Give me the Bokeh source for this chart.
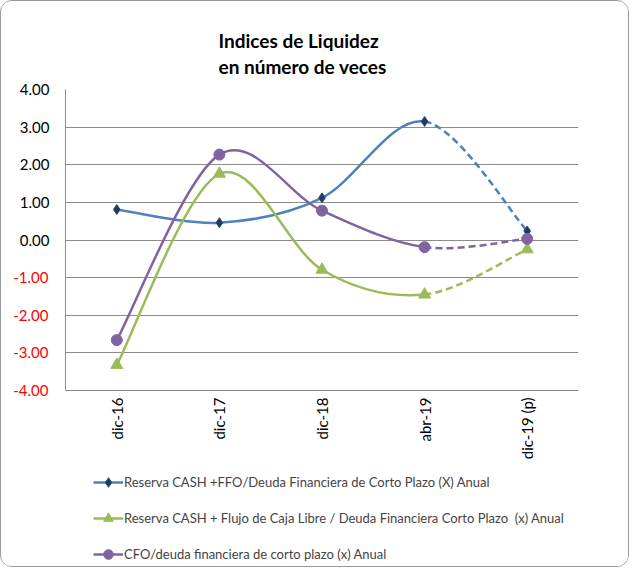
import math
from bokeh.plotting import figure
from bokeh.layouts import column
from bokeh.models import (ColumnDataSource, Range1d, FixedTicker, Legend, LegendItem,
                          LinearAxis, Title)
from bokeh.embed import file_html
from bokeh.resources import INLINE

# ---------------- data ----------------
categories = ["dic-16", "dic-17", "dic-18", "abr-19", "dic-19 (p)"]
serie_ffo = [0.81, 0.46, 1.12, 3.15, 0.24]
serie_fcl = [-3.32, 1.76, -0.79, -1.45, -0.25]
serie_cfo = [-2.66, 2.27, 0.78, -0.19, 0.03]
names = [
    "Reserva CASH +FFO/Deuda Financiera de Corto Plazo (X) Anual",
    "Reserva CASH + Flujo de Caja Libre / Deuda Financiera Corto Plazo  (x) Anual",
    "CFO/deuda financiera de corto plazo (x) Anual",
]
y_ticks = [-4, -3, -2, -1, 0, 1, 2, 3, 4]
y_tick_labels = ["-4.00", "-3.00", "-2.00", "-1.00", "0.00", "1.00", "2.00", "3.00", "4.00"]
title_text = "Indices de Liquidez\nen número de veces"

FONT = "Lato"
xs = list(range(len(categories)))

p = figure(frame_width=513, frame_height=301, min_border_left=64, min_border_right=50,
           min_border_top=88, min_border_bottom=80,
           x_range=Range1d(-0.5, len(categories) - 0.5), y_range=Range1d(-4, 4),
           output_backend="svg", toolbar_location=None, title=None)
p.outline_line_color = None
p.background_fill_color = "white"
p.border_fill_color = "white"

# grid
p.xgrid.visible = False
p.ygrid.ticker = FixedTicker(ticks=y_ticks)
p.ygrid.grid_line_color = "#8c8c8c"
p.ygrid.grid_line_width = 1

# x axis
p.xaxis.ticker = FixedTicker(ticks=xs)
p.xaxis.major_label_overrides = {i: c for i, c in enumerate(categories)}
p.xaxis.major_label_orientation = math.pi / 2
p.xaxis.major_tick_line_color = None
p.xaxis.major_tick_out = 0
p.xaxis.major_tick_in = 0
p.xaxis.minor_tick_line_color = None
p.xaxis.axis_line_color = "#8c8c8c"
p.xaxis.major_label_text_font = FONT
p.xaxis.major_label_text_font_size = "15px"
p.xaxis.major_label_text_color = "black"
p.xaxis.major_label_standoff = 7

# y axis (non-negative labels in black)
pos = [(t, l) for t, l in zip(y_ticks, y_tick_labels) if t >= 0]
neg = [(t, l) for t, l in zip(y_ticks, y_tick_labels) if t < 0]
p.yaxis.ticker = FixedTicker(ticks=[t for t, _ in pos])
p.yaxis.major_label_overrides = {t: l for t, l in pos}
p.yaxis.major_tick_line_color = None
p.yaxis.major_tick_out = 0
p.yaxis.major_tick_in = 0
p.yaxis.minor_tick_line_color = None
p.yaxis.axis_line_color = "#8c8c8c"
p.yaxis.major_label_text_font = FONT
p.yaxis.major_label_text_font_size = "15px"
p.yaxis.major_label_text_color = "black"
p.yaxis.major_label_standoff = 16

# negative labels in red (second axis folded back onto the first)
red_axis = LinearAxis(ticker=FixedTicker(ticks=[t for t, _ in neg]),
                      major_label_overrides={t: l for t, l in neg},
                      axis_line_color=None, major_tick_line_color=None,
                      minor_tick_line_color=None, major_tick_out=0, major_tick_in=0,
                      major_label_text_font=FONT, major_label_text_font_size="15px",
                      major_label_text_color="red", major_label_standoff=-32)
p.add_layout(red_axis, "left")


def smooth_segments(ys):
    n = len(ys)
    seg = dict(x0=[], y0=[], x1=[], y1=[], cx0=[], cy0=[], cx1=[], cy1=[])
    for i in range(n - 1):
        xm = xs[max(i - 1, 0)]; ym = ys[max(i - 1, 0)]
        xp = xs[min(i + 2, n - 1)]; yp = ys[min(i + 2, n - 1)]
        seg["x0"].append(xs[i]); seg["y0"].append(ys[i])
        seg["x1"].append(xs[i + 1]); seg["y1"].append(ys[i + 1])
        seg["cx0"].append(xs[i] + (xs[i + 1] - xm) / 6)
        seg["cy0"].append(ys[i] + (ys[i + 1] - ym) / 6)
        seg["cx1"].append(xs[i + 1] - (xp - xs[i]) / 6)
        seg["cy1"].append(ys[i + 1] - (yp - ys[i]) / 6)
    solid = {k: v[:-1] for k, v in seg.items()}
    dashed = {k: v[-1:] for k, v in seg.items()}
    return solid, dashed


series = [
    (serie_ffo, "#4F81BD", "diamond", "#1F3864", "#2A4C7A", 10),
    (serie_fcl, "#9BBB59", "triangle", "#9BBB59", "#9BBB59", 12),
    (serie_cfo, "#8064A2", "circle", "#8064A2", "#8064A2", 11),
]

# legend lives in a second, axis-less figure directly under the chart
p2 = figure(width=627, height=96, min_border_left=64, min_border_top=0,
            min_border_right=50, min_border_bottom=0,
            x_range=Range1d(0, 1), y_range=Range1d(0, 1),
            x_axis_location=None, y_axis_location=None,
            output_backend="svg", toolbar_location=None, title=None)
p2.grid.visible = False
p2.outline_line_color = None
p2.border_fill_color = "white"
p2.background_fill_color = "white"

items = []
for (ys, color, marker, fill, mline, size), name in zip(series, names):
    solid, dashed = smooth_segments(ys)
    p.bezier(x0="x0", y0="y0", x1="x1", y1="y1", cx0="cx0", cy0="cy0", cx1="cx1", cy1="cy1",
             source=ColumnDataSource(solid), line_color=color, line_width=2.5)
    p.bezier(x0="x0", y0="y0", x1="x1", y1="y1", cx0="cx0", cy0="cy0", cx1="cx1", cy1="cy1",
             source=ColumnDataSource(dashed), line_color=color, line_width=2.5, line_dash="7 4")
    p.scatter(x=xs, y=ys, marker=marker, size=size, fill_color=fill, line_color=mline,
              line_width=1)
    # proxy renderers (off-range) that only feed the legend swatches
    lr = p2.line(x=[-10, -9], y=[-10, -10], line_color=color, line_width=2.5)
    sr = p2.scatter(x=[-10], y=[-10], marker=marker, size=size, fill_color=fill,
                    line_color=mline, line_width=1)
    items.append(LegendItem(label=name, renderers=[lr, sr]))

legend = Legend(items=items, location=(28, 0), orientation="vertical",
                glyph_width=30, glyph_height=24, label_height=24, spacing=12,
                padding=0, margin=0, border_line_color=None, background_fill_alpha=0,
                label_text_font=FONT, label_text_font_size="13px", label_standoff=1,
                label_text_baseline="middle")
p2.add_layout(legend, "center")

# title
p.add_layout(Title(text=title_text, align="left", offset=153, standoff=22,
                   text_font=FONT, text_font_style="bold", text_font_size="19px",
                   text_line_height=1.15, text_color="black"), "above")

layout = column(p, p2, styles={"border": "1px solid #9a9a9a", "border-radius": "12px",
                               "overflow": "hidden"})
open("out.html", "w").write(file_html(layout, INLINE))
